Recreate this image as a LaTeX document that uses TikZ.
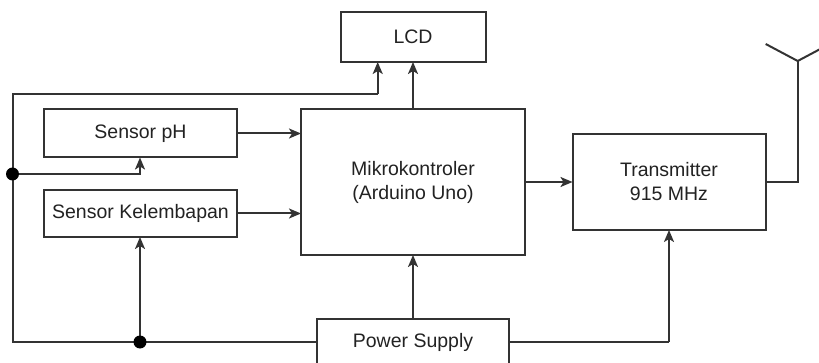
\documentclass[tikz,border=0pt]{standalone}
\usepackage{fontspec}
\setmainfont{Liberation Sans}
\usetikzlibrary{arrows.meta}
\definecolor{linec}{HTML}{333333}
\definecolor{textc}{HTML}{222222}
\begin{document}
\begin{tikzpicture}[x=1pt,y=-1pt,
  blk/.style={draw=linec, line width=2pt, fill=white, inner sep=0pt, outer sep=0pt,
    font=\fontsize{19.5}{24}\selectfont, text=textc, align=center},
  wire/.style={draw=linec, line width=2pt},
  arr/.style={wire, -{Stealth[length=12pt, width=10pt, inset=3pt]}},
  jdot/.style={circle, fill=black, inner sep=0pt, minimum size=13pt}]
\useasboundingbox (0,0) rectangle (819,363);
\node[blk, minimum width=145pt, minimum height=50pt] (lcd) at (413,37) {LCD};
\node[blk, minimum width=193pt, minimum height=48pt] (ph) at (140.5,133.5) {Sensor pH};
\node[blk, minimum width=193pt, minimum height=47pt] (kel) at (140.5,213.5) {Sensor Kelembapan};
\node[blk, minimum width=224pt, minimum height=146pt] (mcu) at (413,182) {Mikrokontroler\\(Arduino Uno)};
\node[blk, minimum width=193pt, minimum height=96pt] (tx) at (669,182) {Transmitter\\915 MHz};
\node[blk, minimum width=192pt, minimum height=46pt] (ps) at (413,342) {Power Supply};
\coordinate (dotB) at (140,342);
\coordinate (dotL) at (12.5,174);
\coordinate (cBL) at (12.5,342);
\coordinate (cTL) at (12.5,94);
\coordinate (cTR) at (377.7,94);
\coordinate (cPH) at (140,174);
\coordinate (cTX) at (669,342);
\coordinate (ant) at (797.7,182);
\coordinate (antTop) at (797.7,61);
\coordinate (armL) at (765.7,44);
\coordinate (armR) at (829.7,44);
% power loop
\draw[wire] (ps.west) -- (dotB) -- (cBL) -- (cTL) -- (cTR);
\draw[arr] (cTR) -- (cTR |- lcd.south);
\draw[arr] (dotL) -- (cPH) -- (cPH |- ph.south);
\draw[arr] (dotB) -- (dotB |- kel.south);
\draw[arr] (ps.north) -- (mcu.south);
\draw[wire] (ps.east) -- (cTX);
\draw[arr] (cTX) -- (tx.south);
% signals
\draw[arr] (mcu.north) -- (lcd.south);
\draw[arr] (ph.east) -- (ph.east -| mcu.west);
\draw[arr] (kel.east) -- (kel.east -| mcu.west);
\draw[arr] (mcu.east) -- (tx.west);
% antenna
\draw[wire] (tx.east) -- (ant) -- (antTop);
\draw[wire] (armL) -- (antTop) -- (armR);
\node[jdot] at (dotL) {};
\node[jdot] at (dotB) {};
\end{tikzpicture}
\end{document}
